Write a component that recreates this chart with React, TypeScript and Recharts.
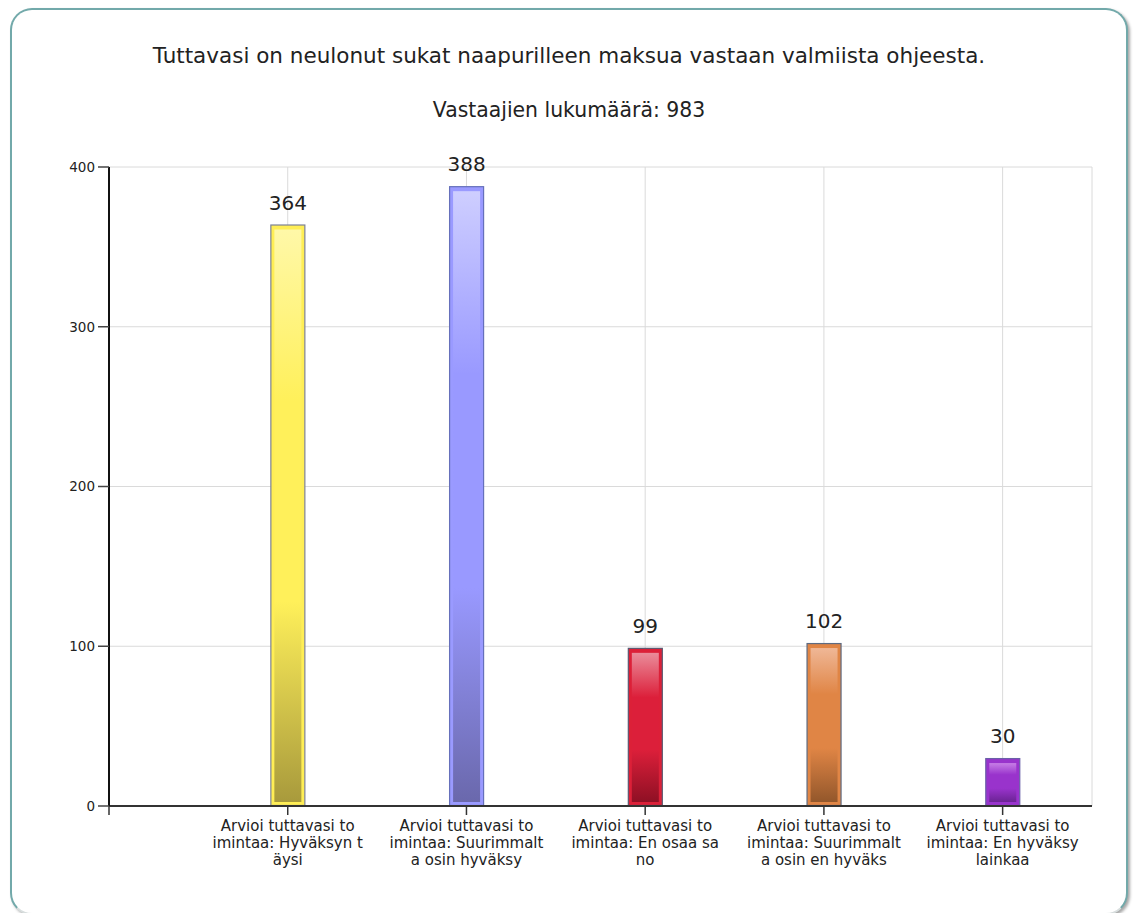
import React from 'react';
import { BarChart, Bar, XAxis, YAxis, CartesianGrid, LabelList } from 'recharts';

const chartTitle = 'Tuttavasi on neulonut sukat naapurilleen maksua vastaan valmiista ohjeesta.';
const chartSubtitle = 'Vastaajien lukumäärä: 983';

const categoryLines: string[][] = [
  ['Arvioi tuttavasi to', 'imintaa: Hyväksyn t', 'äysi'],
  ['Arvioi tuttavasi to', 'imintaa: Suurimmalt', 'a osin hyväksy'],
  ['Arvioi tuttavasi to', 'imintaa: En osaa sa', 'no'],
  ['Arvioi tuttavasi to', 'imintaa: Suurimmalt', 'a osin en hyväks'],
  ['Arvioi tuttavasi to', 'imintaa: En hyväksy', 'lainkaa'],
];
const counts = [364, 388, 99, 102, 30];
const yTicks = [0, 100, 200, 300, 400];
const xTicks = [0, 1, 2, 3, 4, 5];

const palette = [
  { light: '#fff8a8', base: '#fff05a', dark: '#a89a3c', band: '#ffee55', stroke: '#7d8296' },
  { light: '#ceceff', base: '#9999ff', dark: '#6a68ac', band: '#9a9aff', stroke: '#6670bb' },
  { light: '#ea8c9a', base: '#dc1f3a', dark: '#8e1024', band: '#dc2038', stroke: '#5a5870' },
  { light: '#efb796', base: '#e08545', dark: '#93572b', band: '#e08545', stroke: '#5e6a80' },
  { light: '#c77ee6', base: '#9933cc', dark: '#6b2394', band: '#9933cc', stroke: '#6a60a8' },
];

const data = counts.map((v, i) => ({ x: i + 1, value: v, idx: i }));

const FONT = '"DejaVu Sans", Verdana, sans-serif';

const BarShape = (props: any) => {
  const { x, y, width, height, payload } = props;
  const i = payload?.idx ?? props.index ?? 0;
  const p = palette[i];
  const id = `barGrad${i}`;
  const inset = 4;
  return (
    <g>
      <defs>
        <linearGradient id={id} x1="0" y1="0" x2="0" y2="1">
          <stop offset="0%" stopColor={p.light} />
          <stop offset="30%" stopColor={p.base} />
          <stop offset="65%" stopColor={p.base} />
          <stop offset="100%" stopColor={p.dark} />
        </linearGradient>
      </defs>
      <rect x={x + 0.5} y={y + 0.5} width={width - 1} height={Math.max(0, height - 1)} fill={p.band} stroke={p.stroke} strokeWidth={1.2} />
      <rect x={x + inset} y={y + inset + 1} width={width - 2 * inset} height={Math.max(0, height - 2 * inset - 1)} fill={`url(#${id})`} />
    </g>
  );
};

const XTick = (props: any) => {
  const { x, y, payload } = props;
  const lines = categoryLines[payload.value - 1];
  if (!lines) return null;
  return (
    <text x={x} y={y} textAnchor="middle" fontSize={15} fill="#222" fontFamily={FONT}>
      {lines.map((l, i) => (
        <tspan key={i} x={x} dy={i === 0 ? 14 : 17}>{l}</tspan>
      ))}
    </text>
  );
};

export default function App() {
  return (
    <div style={{ position: 'absolute', left: 0, top: 0, width: 1134, height: 913, overflow: 'hidden', fontFamily: FONT, background: '#fff' }}>
      <div style={{
        position: 'absolute', left: 10, top: 8, width: 1114, height: 903,
        border: '2.5px solid #72a9aa', borderBottomColor: '#d8dede', borderRadius: 22,
        boxShadow: '2px 2px 3px rgba(0,0,0,0.35)', background: '#fff',
      }} />
      <div style={{ position: 'absolute', left: 10, width: 1118, top: 43, textAlign: 'center', fontSize: 21.5, color: '#222', whiteSpace: 'nowrap' }}>
        {chartTitle}
      </div>
      <div style={{ position: 'absolute', left: 10, width: 1118, top: 98, textAlign: 'center', fontSize: 20.4, color: '#222', whiteSpace: 'nowrap' }}>
        {chartSubtitle}
      </div>
      <div style={{ position: 'absolute', left: 0, top: 0 }}>
        <BarChart width={1134} height={913} data={data} margin={{ top: 167, right: 42, bottom: 0, left: 0 }}>
          <CartesianGrid stroke="#dadada" strokeWidth={1} />
          <XAxis
            dataKey="x"
            type="number"
            domain={[0, 5.5]}
            ticks={xTicks}
            interval={0}
            height={107}
            tickSize={9}
            tickMargin={2}
            axisLine={{ stroke: '#333', strokeWidth: 2 }}
            tickLine={{ stroke: '#333', strokeWidth: 1.5 }}
            tick={<XTick />}
          />
          <YAxis
            type="number"
            domain={[0, 400]}
            ticks={yTicks}
            width={109}
            tickSize={11}
            tickMargin={3}
            axisLine={{ stroke: '#111', strokeWidth: 2 }}
            tickLine={{ stroke: '#444', strokeWidth: 1.5 }}
            tick={{ fontSize: 13.5, fill: '#222', fontFamily: FONT }}
          />
          <Bar dataKey="value" barSize={35} isAnimationActive={false} shape={<BarShape />}>
            <LabelList dataKey="value" position="top" offset={15} style={{ fontSize: 20, fill: '#222', fontFamily: FONT }} />
          </Bar>
        </BarChart>
      </div>
    </div>
  );
}
